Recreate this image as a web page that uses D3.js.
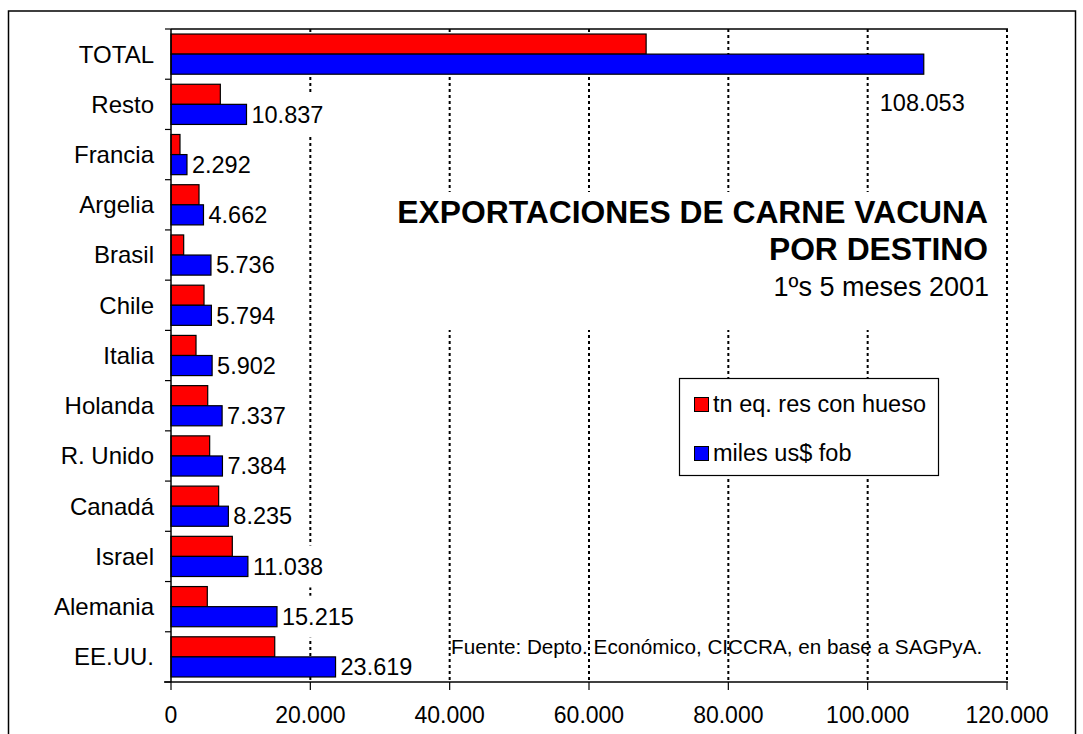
<!DOCTYPE html>
<html><head><meta charset="utf-8">
<script src="https://cdn.jsdelivr.net/npm/d3@7"></script>
<style>
body{margin:0;background:#fff}
svg{display:block;font-family:Arial,"Liberation Sans",sans-serif}
</style>
</head><body><svg id="c" width="1083" height="734"></svg>
<script>
const categories = ["TOTAL","Resto","Francia","Argelia","Brasil","Chile","Italia","Holanda","R. Unido","Canadá","Israel","Alemania","EE.UU."];
const tnValues = [68200,7080,1290,4020,1820,4740,3590,5270,5550,6840,8800,5210,14890];
const usdValues = [108053,10837,2292,4662,5736,5794,5902,7337,7384,8235,11038,15215,23619];
const seriesNames = ["tn eq. res con hueso","miles us$ fob"];
const seriesColors = ["#ff0000","#0000ff"];
const xTicks = [0,20000,40000,60000,80000,100000,120000];
const titleLines = ["EXPORTACIONES DE CARNE VACUNA","POR DESTINO"];
const subtitle = "1ºs 5 meses 2001";
const sourceNote = "Fuente: Depto. Económico, CICCRA, en base a SAGPyA.";

const loc = d3.formatLocale({decimal:",",thousands:".",grouping:[3],currency:["$",""]});
const fmt = loc.format(",d");

const svg = d3.select("#c");
const L=171, R=1007, T=29, B=682;
const x = d3.scaleLinear().domain([0,120000]).range([L,R]);
const y = d3.scaleBand().domain(categories).range([T,B]).paddingInner(0.2).paddingOuter(0.1);
const ys = d3.scaleBand().domain([0,1]).range([0,y.bandwidth()]);

const rows = categories.map((c,i)=>({cat:c, vals:[tnValues[i],usdValues[i]]}));

// outer border
svg.append("rect").attr("x",8.5).attr("y",11).attr("width",1067).attr("height",740)
  .attr("fill","none").attr("stroke","#000").attr("stroke-width",1.5);

// gridlines
svg.append("g").selectAll("line").data(xTicks.slice(1)).join("line")
  .attr("x1",d=>x(d)).attr("x2",d=>x(d)).attr("y1",T).attr("y2",B)
  .attr("stroke","#000").attr("stroke-width",2).attr("stroke-dasharray","3,3");

// data label positions
const labelInfo = rows.map((r,i)=>{
  const v = r.vals[1];
  const isTotal = i===0;
  const lx = isTotal ? x(v)-44 : x(v)+5;
  const ly = isTotal ? y(r.cat)+y.bandwidth()+28.5 : y(r.cat)+ys(1)+ys.bandwidth()/2;
  return {text:fmt(v), lx, ly};
});
const masks = svg.append("g");
// title mask
masks.append("rect").attr("x",390).attr("y",192).attr("width",610).attr("height",138).attr("fill","#fff");

// bars
const bg = svg.append("g");
rows.forEach(r=>{
  bg.selectAll(null).data(r.vals).join("rect")
    .attr("x",x(0)).attr("y",(d,j)=>y(r.cat)+ys(j))
    .attr("width",d=>x(d)-x(0)).attr("height",ys.bandwidth())
    .attr("fill",(d,j)=>seriesColors[j]).attr("stroke","#000").attr("stroke-width",1.2);
});

// axes
svg.append("line").attr("x1",L).attr("x2",R+1).attr("y1",T).attr("y2",T).attr("stroke","#000").attr("stroke-width",1.5);
svg.append("line").attr("x1",L).attr("x2",L).attr("y1",T).attr("y2",B).attr("stroke","#000").attr("stroke-width",1.5);
svg.append("line").attr("x1",L-7).attr("x2",R+1).attr("y1",B).attr("y2",B).attr("stroke","#000").attr("stroke-width",1.5);
const bounds = d3.range(categories.length+1).map(i=>T+i*y.step());
svg.append("g").selectAll("line").data(bounds).join("line")
  .attr("x1",L-6).attr("x2",L).attr("y1",d=>d).attr("y2",d=>d).attr("stroke","#000").attr("stroke-width",1.2);
svg.append("g").selectAll("line").data(xTicks).join("line")
  .attr("x1",d=>x(d)).attr("x2",d=>x(d)).attr("y1",B).attr("y2",B+8).attr("stroke","#000").attr("stroke-width",1.2);
svg.append("g").selectAll("text").data(xTicks).join("text")
  .attr("x",d=>x(d)).attr("y",723).attr("text-anchor","middle").attr("font-size",23).text(d=>fmt(d));

// category labels
svg.append("g").selectAll("text").data(categories).join("text")
  .attr("x",154).attr("y",d=>y(d)+y.bandwidth()/2).attr("dy","0.35em")
  .attr("text-anchor","end").attr("font-size",24).text(d=>d);

// data labels with white boxes
const texts = svg.append("g").selectAll("text").data(labelInfo).join("text")
  .attr("x",d=>d.lx).attr("y",d=>d.ly).attr("dy","0.35em").attr("font-size",23.5).text(d=>d.text);
texts.each(function(d){
  const bb = this.getBBox();
  masks.append("rect").attr("x",bb.x-3).attr("y",d.ly-21).attr("width",bb.width+6).attr("height",42).attr("fill","#fff");
});

// title
svg.append("text").attr("x",988).attr("y",223).attr("text-anchor","end").attr("font-size",31.8).attr("font-weight","bold").text(titleLines[0]);
svg.append("text").attr("x",988).attr("y",260).attr("text-anchor","end").attr("font-size",31.8).attr("font-weight","bold").text(titleLines[1]);
svg.append("text").attr("x",989).attr("y",296).attr("text-anchor","end").attr("font-size",27).text(subtitle);

// legend
const lg = svg.append("g");
lg.append("rect").attr("x",679.5).attr("y",378.5).attr("width",259).attr("height",97)
  .attr("fill","#fff").attr("stroke","#000").attr("stroke-width",1.2);
seriesNames.forEach((s,i)=>{
  lg.append("rect").attr("x",694.5).attr("y",397.5+i*49).attr("width",14).attr("height",14)
    .attr("fill",seriesColors[i]).attr("stroke","#000").attr("stroke-width",1);
  lg.append("text").attr("x",713).attr("y",412+i*48.5).attr("font-size",23.5).text(s);
});

// source
svg.append("text").attr("x",451).attr("y",654).attr("font-size",20.7).text(sourceNote);
</script>
</body></html>
